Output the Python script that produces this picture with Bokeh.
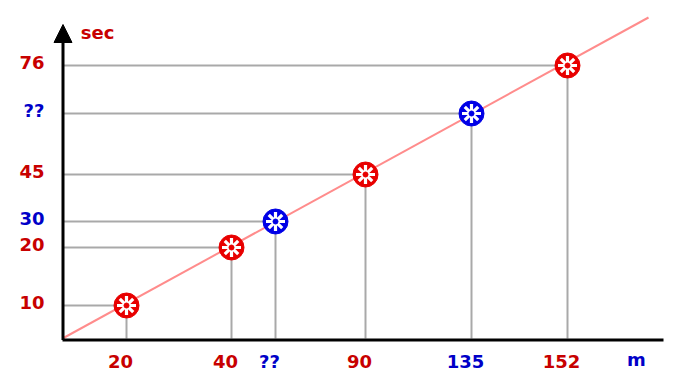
from bokeh.plotting import figure
from bokeh.models import Range1d, Arrow, NormalHead, ColumnDataSource
from bokeh.core.properties import value
from bokeh.embed import file_html
from bokeh.resources import INLINE

# Schematic chart: positions along the axes (axis units, origin at the corner)
dist_labels = ["20", "40", "??", "90", "135", "152"]
time_labels = ["10", "20", "30", "45", "??", "76"]
x_pos = [64, 169, 213, 303, 409, 505]
y_pos = [33, 91, 117, 164, 225, 273]
unknown = [False, False, True, False, True, False]
line_x = [0, 586]
line_y = [0, 321]

RED_M, BLUE_M = "#e80000", "#0000e6"
RED_T, BLUE_T = "#c80000", "#0000c8"
marker_col = [BLUE_M if u else RED_M for u in unknown]
label_col = [BLUE_T if u else RED_T for u in unknown]
FONT = value("DejaVu Sans")
FS = "18px"

src = ColumnDataSource(dict(
    x=x_pos, y=y_pos, zero=[0] * len(x_pos), mc=marker_col, lc=label_col,
    xl=dist_labels, yl=time_labels,
))

p = figure(width=680, height=390, output_backend="svg", toolbar_location=None,
           x_range=Range1d(-62, 618), y_range=Range1d(-52, 338),
           x_axis_type=None, y_axis_type=None, min_border=0)
p.outline_line_color = None
p.xgrid.visible = False
p.ygrid.visible = False
p.background_fill_color = "white"
p.border_fill_color = "white"

# guide lines
p.segment(x0="zero", y0="y", x1="x", y1="y", source=src, line_color="#a9a9a9", line_width=2)
p.segment(x0="x", y0="zero", x1="x", y1="y", source=src, line_color="#a9a9a9", line_width=2)

# proportional line
p.line(line_x, line_y, line_color="#ff8c8c", line_width=2)

# axes
p.segment(x0=[0], y0=[-1.5], x1=[601], y1=[-1.5], line_color="black", line_width=3)
p.add_layout(Arrow(x_start=0.5, y_start=-1.5, x_end=0.5, y_end=314,
                   line_color="black", line_width=3,
                   end=NormalHead(size=18, fill_color="black", line_color="black", line_width=1)))

# markers
p.scatter("x", "y", source=src, size=25, fill_color="mc", line_color="mc", marker="circle")
p.scatter("x", "y", source=src, size=19, marker="asterisk", line_color="white", line_width=3.2)
p.scatter("x", "y", source=src, size=5, fill_color="mc", line_color="mc", marker="circle")

# tick labels
p.text("x", "zero", text="xl", source=src, text_color="lc", text_font=FONT,
       text_font_style="bold", text_font_size=FS, text_align="center",
       text_baseline="alphabetic", y_offset=23, x_offset=-6)
p.text("zero", "y", text="yl", source=src, text_color="lc", text_font=FONT,
       text_font_style="bold", text_font_size=FS, text_align="right",
       text_baseline="alphabetic", x_offset=-18, y_offset=-3)

# axis titles
p.text(x=[35], y=[306], text=["sec"], text_color=RED_T, text_font=FONT,
       text_font_style="bold", text_font_size=FS, text_align="center",
       text_baseline="alphabetic")
p.text(x=[574], y=[-21], text=["m"], text_color=BLUE_T, text_font=FONT,
       text_font_style="bold", text_font_size=FS, text_align="center",
       text_baseline="alphabetic")

open("out.html", "w").write(file_html(p, INLINE))
